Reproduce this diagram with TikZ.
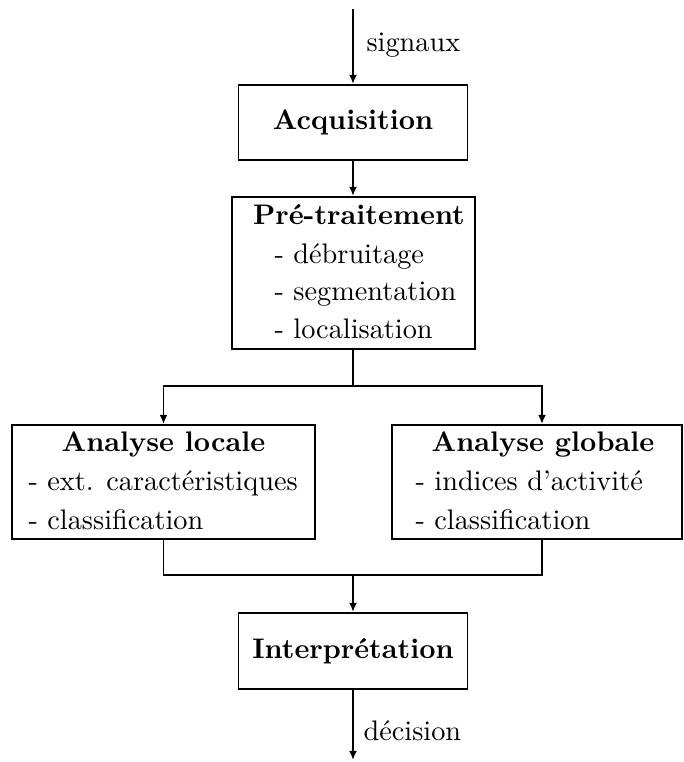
\documentclass[tikz,border=0pt]{standalone}
\usetikzlibrary{arrows.meta}
\newcommand\pxu{0.3535pt}
\begin{document}
\begin{tikzpicture}[x=0.3535pt,y=-0.3535pt,
  boxn/.style={draw, line width=0.7pt, inner sep=0pt},
  lin/.style={line width=0.7pt},
  arr/.style={line width=0.7pt, -{Latex[length=3.2pt,width=2.8pt]}},
  arrs/.style={line width=0.7pt, {Latex[length=3.2pt,width=2.8pt]}-{Latex[length=3.2pt,width=2.8pt]}},
  ttl/.style={inner sep=0pt, anchor=base, font=\bfseries},
  itm/.style={inner sep=0pt, anchor=base west}]
\useasboundingbox (0,0) rectangle (683,762);
% boxes
\node[boxn, minimum width=229*\pxu, minimum height=75*\pxu] (acq) at (353,122.5) {\textbf{Acquisition}};
\node[boxn, minimum width=243*\pxu, minimum height=152*\pxu] (pre) at (353.5,273) {};
\node[boxn, minimum width=303*\pxu, minimum height=114*\pxu] (loc) at (163.5,482) {};
\node[boxn, minimum width=290*\pxu, minimum height=114*\pxu] (glo) at (537,482) {};
\node[boxn, minimum width=229*\pxu, minimum height=76*\pxu] (int) at (353,651) {\textbf{Interprétation}};
% texts
\node[ttl] (pret) at (359,225) {Pré-traitement};
\node[itm] (pre1) at (274,263) {- débruitage};
\node[itm] (pre2) at (274,300) {- segmentation};
\node[itm] (pre3) at (274,338) {- localisation};
\node[ttl] (loct) at (163.5,451) {Analyse locale};
\node[itm] (loc1) at (28,490) {- ext. caractéristiques};
\node[itm] (loc2) at (28,529) {- classification};
\node[ttl] (glot) at (543,451) {Analyse globale};
\node[itm] (glo1) at (415,490) {- indices d'activité};
\node[itm] (glo2) at (415,529) {- classification};
\node[itm] (sig) at (366,52) {signaux};
\node[itm] (dec) at (363,740) {décision};
% coordinates
\coordinate (top) at (353,9);
\coordinate (jl) at (163.5,386);
\coordinate (jr) at (542,386);
\coordinate (bl) at (163.5,575);
\coordinate (br) at (542,575);
\coordinate (bot) at (353,760);
% connectors
\draw[arr] (top) -- (acq.north);
\draw[arr] (acq.south) -- (acq.south |- pre.north);
\draw[lin] (pre.south -| acq.south) -- (acq.south |- jl);
\draw[arrs] (jl |- loc.north) -- (jl) -- (jr) -- (jr |- glo.north);
\draw[lin] (loc.south) -- (bl) -- (br) -- (br |- glo.south);
\draw[arr] (int.north |- bl) -- (int.north);
\draw[arr] (int.south) -- (bot);
\end{tikzpicture}
\end{document}
